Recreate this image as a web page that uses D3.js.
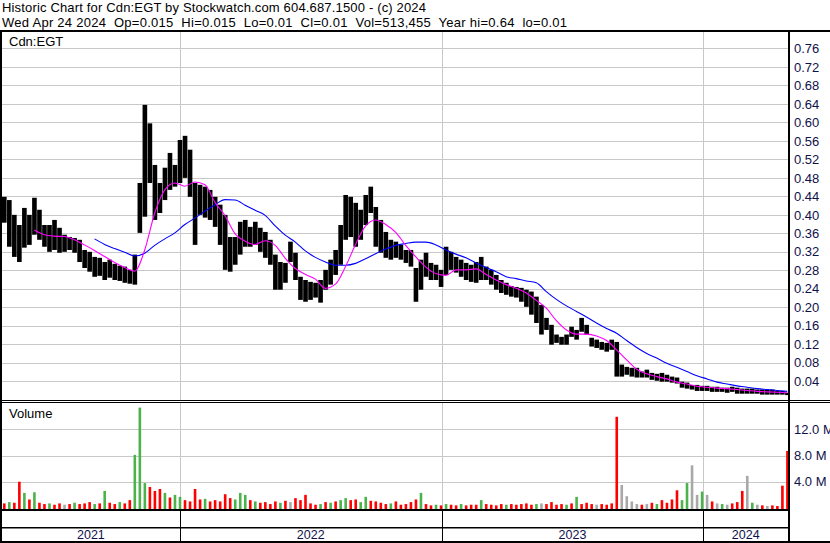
<!DOCTYPE html>
<html><head><meta charset="utf-8">
<script src="https://cdn.jsdelivr.net/npm/d3@7"></script>
<style>
body{margin:0;background:#fff;}
svg{display:block;font-family:"Liberation Sans",Arial,sans-serif;}
</style>
</head><body>
<svg id="chart" width="830" height="543"></svg>
<script>
// ---------- data ----------
const titleLine = "Historic Chart for Cdn:EGT by Stockwatch.com 604.687.1500 - (c) 2024";
const infoLine = "Wed Apr 24 2024  Op=0.015  Hi=0.015  Lo=0.01  Cl=0.01  Vol=513,455  Year hi=0.64  lo=0.01";
const symbolLabel = "Cdn:EGT";
const volumeLabel = "Volume";
const firstWeek = "2021-04-28";
const lastDay = "2024-04-28";

// weekly high / low (price, C$)
const weekHigh = [
0.439,0.432,0.400,0.378,0.415,0.400,0.437,0.411,0.378,0.378,
0.389,0.372,0.357,0.352,0.350,0.346,0.324,0.320,0.309,0.307,
0.298,0.303,0.294,0.290,0.288,0.281,0.314,0.469,0.638,0.598,
0.508,0.469,0.502,0.534,0.508,0.562,0.571,0.541,0.469,0.465,
0.461,0.454,0.439,0.422,0.400,0.352,0.352,0.385,0.389,0.374,
0.385,0.372,0.363,0.346,0.314,0.298,0.296,0.342,0.318,0.266,
0.259,0.255,0.253,0.259,0.281,0.303,0.324,0.378,0.443,0.439,
0.426,0.411,0.443,0.461,0.417,0.389,0.363,0.346,0.342,0.335,
0.324,0.324,0.285,0.303,0.318,0.296,0.292,0.281,0.331,0.320,
0.309,0.303,0.296,0.292,0.298,0.309,0.288,0.281,0.270,0.259,
0.253,0.246,0.244,0.242,0.238,0.234,0.223,0.205,0.177,0.162,
0.141,0.136,0.141,0.158,0.151,0.177,0.162,0.134,0.130,0.125,
0.123,0.130,0.125,0.076,0.071,0.069,0.069,0.061,0.065,0.058,
0.056,0.058,0.054,0.050,0.048,0.039,0.037,0.032,0.032,0.030,
0.030,0.028,0.028,0.026,0.026,0.028,0.026,0.024,0.024,0.024,
0.022,0.022,0.022,0.022,0.019,0.019,0.015];
const weekLow = [
0.383,0.331,0.309,0.298,0.329,0.335,0.357,0.346,0.331,0.320,
0.324,0.318,0.320,0.324,0.318,0.298,0.285,0.277,0.266,0.268,
0.259,0.264,0.259,0.257,0.253,0.251,0.249,0.361,0.396,0.469,
0.389,0.404,0.432,0.454,0.461,0.469,0.480,0.439,0.335,0.400,
0.394,0.389,0.374,0.335,0.281,0.277,0.292,0.314,0.331,0.331,
0.335,0.320,0.307,0.292,0.238,0.238,0.253,0.298,0.259,0.216,
0.212,0.216,0.221,0.210,0.238,0.249,0.270,0.292,0.346,0.352,
0.331,0.346,0.378,0.404,0.331,0.318,0.307,0.303,0.307,0.303,
0.296,0.288,0.212,0.238,0.266,0.259,0.259,0.244,0.270,0.281,
0.275,0.266,0.259,0.255,0.253,0.259,0.259,0.249,0.238,0.231,
0.227,0.223,0.221,0.212,0.201,0.184,0.166,0.141,0.151,0.119,
0.123,0.119,0.119,0.136,0.130,0.147,0.141,0.115,0.112,0.108,
0.104,0.108,0.050,0.050,0.054,0.050,0.048,0.048,0.048,0.043,
0.041,0.039,0.039,0.037,0.035,0.026,0.024,0.022,0.019,0.019,
0.019,0.017,0.017,0.017,0.015,0.017,0.013,0.013,0.013,0.013,
0.013,0.011,0.011,0.011,0.011,0.011,0.010];

// short moving average (magenta), every 2nd week from week 6
const maFastStart = 6;
const maFast = [
0.367,0.357,0.354,0.353,0.346,0.335,0.323,0.310,0.297,0.286,
0.278,0.324,0.404,0.454,0.469,0.462,0.471,0.465,0.427,0.398,
0.359,0.343,0.336,0.344,0.334,0.306,0.284,0.271,0.261,0.241,
0.250,0.288,0.336,0.376,0.389,0.379,0.362,0.334,0.309,0.287,
0.273,0.269,0.281,0.281,0.283,0.271,0.259,0.249,0.241,0.231,
0.215,0.198,0.171,0.151,0.142,0.142,0.138,0.128,0.108,0.086,
0.066,0.056,0.050,0.045,0.038,0.034,0.029,0.027,0.025,0.024,
0.022,0.020,0.018,0.017,0.016,0.015];
// long moving average (blue), every 2nd week from week 18
const maSlowStart = 18;
const maSlow = [
0.348,0.336,0.327,0.319,0.311,0.317,0.334,0.348,0.361,0.379,
0.393,0.408,0.422,0.433,0.432,0.421,0.410,0.399,0.376,0.356,
0.341,0.322,0.308,0.298,0.291,0.291,0.295,0.305,0.316,0.326,
0.334,0.338,0.341,0.341,0.335,0.324,0.315,0.307,0.296,0.286,
0.277,0.266,0.262,0.257,0.253,0.234,0.217,0.203,0.191,0.179,
0.166,0.154,0.144,0.128,0.113,0.100,0.090,0.079,0.070,0.061,
0.052,0.045,0.038,0.034,0.030,0.027,0.024,0.022,0.020,0.018];

// weekly peak volume (millions) and direction (g=up, r=down, n=unchanged)
const volM = [
0.7,0.9,0.8,4.0,2.3,1.3,2.4,0.8,0.6,0.7,
0.5,0.7,0.5,0.6,0.8,0.6,0.7,0.9,0.6,0.7,
2.6,0.8,0.6,0.9,0.7,1.2,8.1,15.3,3.8,3.2,
2.6,2.9,2.3,1.6,2.0,1.7,1.2,1.0,2.9,1.3,
1.4,1.0,1.2,1.0,2.1,1.5,1.3,2.3,2.0,1.2,
1.0,0.8,0.9,0.6,1.0,0.8,1.1,0.9,1.5,1.2,
2.0,0.7,0.5,0.6,0.9,0.8,1.0,1.2,1.5,1.2,
1.3,0.9,1.7,1.1,1.0,0.8,0.6,0.7,1.0,0.5,
0.6,0.9,1.3,2.3,0.6,0.4,0.5,0.4,0.6,0.5,
0.4,0.6,0.4,0.5,0.5,1.2,0.6,0.5,0.4,0.6,
0.5,0.6,0.5,0.6,0.7,0.5,0.6,0.7,0.6,0.9,
0.5,0.6,0.5,0.7,1.7,0.6,0.8,0.6,0.5,0.6,
0.5,0.7,13.9,3.5,1.8,1.0,0.6,0.5,0.6,0.8,
0.6,1.2,0.8,1.3,2.7,1.2,3.8,6.5,2.0,2.5,
2.0,1.0,0.7,0.6,0.5,0.7,0.9,2.6,4.9,0.8,
0.5,0.4,0.3,0.4,0.3,3.4,8.7];
const volDir =
"rgrrgrgrrg"+"rrnrgrrrgr"+"grrgrrgggr"+"rrgrggrrrr"+"grrrrrgggr"+
"grrrrgrnrr"+"rrrgrgrggr"+"rggrrrrgrr"+"rrrgrrgrgr"+"rgrrrgrrrr"+
"grrrrrgnrr"+"rrgrgrrrnr"+"rrrnnnnrnr"+"grrrrggnng"+"nrngnrrrng"+"nrnrrrr";

const priceTicks = [0.04,0.08,0.12,0.16,0.20,0.24,0.28,0.32,0.36,0.40,0.44,0.48,0.52,0.56,0.60,0.64,0.68,0.72,0.76];
const volTicks = [4,8,12];
const years = [2021,2022,2023,2024];

// ---------- drawing ----------
const svg = d3.select("#chart");
const parse = d3.utcParse("%Y-%m-%d");
const start = parse(firstWeek), end = parse(lastDay);
const L = 2, R = 788;
const x = d3.scaleUtc().domain([start, end]).range([L, R]);
const y = d3.scaleLinear().domain([0, 0.8]).range([399.7, 30]);
const yv = d3.scaleLinear().domain([0, 16]).range([508, 403]);
const weekDate = i => d3.utcDay.offset(start, 7 * i);
const gridColor = "#c8c8c8";
const labelColor = "#10104a";
const volColor = {g:"#4cb24c", r:"#ff0000", n:"#a8a8a8"};

svg.append("rect").attr("width",830).attr("height",543).attr("fill","#fff");

const defs = svg.append("defs");
defs.append("clipPath").attr("id","pclip").append("rect")
  .attr("x",L).attr("y",32).attr("width",R-L).attr("height",368);
defs.append("clipPath").attr("id","vclip").append("rect")
  .attr("x",L).attr("y",403).attr("width",R-L).attr("height",106);

// year boundaries
const yearStarts = years.map(yr => new Date(Date.UTC(yr,0,1)));
const bounds = yearStarts.slice(1).map(d => x(d));

// price grid
svg.append("g").attr("transform",`translate(${L},0)`)
  .call(d3.axisRight(y).tickValues(priceTicks).tickSize(R-L).tickFormat(""))
  .call(g => g.select(".domain").remove())
  .call(g => g.selectAll("line").attr("stroke",gridColor).attr("shape-rendering","crispEdges"));
// volume grid
svg.append("g").attr("transform",`translate(${L},0)`)
  .call(d3.axisRight(yv).tickValues(volTicks).tickSize(R-L).tickFormat(""))
  .call(g => g.select(".domain").remove())
  .call(g => g.selectAll("line").attr("stroke",gridColor).attr("shape-rendering","crispEdges"));
// vertical year grid
bounds.forEach(bx => {
  const xx = Math.round(bx)+0.5;
  svg.append("line").attr("x1",xx).attr("x2",xx).attr("y1",32).attr("y2",400).attr("stroke",gridColor);
  svg.append("line").attr("x1",xx).attr("x2",xx).attr("y1",403).attr("y2",509).attr("stroke",gridColor);
  svg.append("line").attr("x1",xx).attr("x2",xx).attr("y1",511).attr("y2",541).attr("stroke","#000");
});

// price bars
const pg = svg.append("g").attr("clip-path","url(#pclip)");
pg.selectAll("rect.bar").data(weekHigh).join("rect")
  .attr("class","bar")
  .attr("x",(d,i)=>x(weekDate(i)))
  .attr("width",(d,i)=>x(weekDate(i+1))-x(weekDate(i))-0.4)
  .attr("y",d=>y(d))
  .attr("height",(d,i)=>Math.max(1.2, y(weekLow[i])-y(d)))
  .attr("fill","#000");

// moving averages
const maLine = d3.line().x(d=>d[0]).y(d=>d[1]).curve(d3.curveMonotoneX);
function maPoints(arr, st){
  return arr.map((v,k)=>{ const i = st + 2*k; return [x(d3.utcDay.offset(weekDate(i),3)), y(v)]; });
}
pg.append("path").attr("d",maLine(maPoints(maSlow,maSlowStart)))
  .attr("fill","none").attr("stroke","#0000ff").attr("stroke-width",1.1);
pg.append("path").attr("d",maLine(maPoints(maFast,maFastStart)))
  .attr("fill","none").attr("stroke","#ff00ff").attr("stroke-width",1.1);

// volume bars
const vg = svg.append("g").attr("clip-path","url(#vclip)");
vg.selectAll("rect").data(volM).join("rect")
  .attr("x",(d,i)=>x(weekDate(i))+1)
  .attr("width",2.6)
  .attr("y",d=>yv(d))
  .attr("height",d=>509-yv(d))
  .attr("fill",(d,i)=>volColor[volDir[i]]);

// frame lines
const blk = (x0,y0,w,h)=>svg.append("rect").attr("x",x0).attr("y",y0).attr("width",w).attr("height",h).attr("fill","#000");
blk(0,30,830,2);          // under header
blk(0,30,2,513);          // left border
blk(R,30,2,513);          // right axis
blk(0,400,830,1);         // price bottom
blk(0,402,830,1);         // volume top
blk(0,509,R,2);           // volume bottom
blk(0,527,R,1.5);         // date band
blk(0,541,830,2);         // bottom

// price labels
svg.append("g").attr("transform",`translate(${R},0)`)
  .call(d3.axisRight(y).tickValues(priceTicks).tickSize(0).tickPadding(6).tickFormat(d3.format(".2f")))
  .call(g => g.select(".domain").remove())
  .call(g => g.selectAll("text").attr("font-size",13).attr("font-family","'Liberation Sans',Arial,sans-serif").attr("fill",labelColor));
// volume labels
svg.append("g").attr("transform",`translate(${R},0)`)
  .call(d3.axisRight(yv).tickValues(volTicks).tickSize(0).tickPadding(6).tickFormat(d=>d3.format(".1f")(d)+" M"))
  .call(g => g.select(".domain").remove())
  .call(g => g.selectAll("text").attr("font-size",13).attr("font-family","'Liberation Sans',Arial,sans-serif").attr("fill",labelColor));

// year labels
const yearEdges = [L, ...bounds, R];
svg.selectAll("text.yr").data(years).join("text").attr("class","yr")
  .attr("x",(d,i)=>(yearEdges[i]+yearEdges[i+1])/2)
  .attr("y",539).attr("text-anchor","middle")
  .attr("font-size",12.5).attr("fill",labelColor).text(d=>d);

// header text, spread to the reference line widths
function spreadText(txt, yPos, target){
  const t = svg.append("text").attr("x",2).attr("y",yPos).attr("font-size",13).attr("fill","#000")
    .style("white-space","pre").text(txt);
  const natural = t.node().getComputedTextLength();
  const ls = (target - natural) / Math.max(1, txt.length - 1);
  t.attr("letter-spacing", ls.toFixed(3));
  return t;
}
spreadText(titleLine, 11.5, 424);
spreadText(infoLine, 26.5, 565);
svg.append("text").attr("x",9).attr("y",46).attr("font-size",13).attr("fill","#000").text(symbolLabel);
svg.append("text").attr("x",9).attr("y",418).attr("font-size",13).attr("fill","#000").text(volumeLabel);
</script>
</body></html>
